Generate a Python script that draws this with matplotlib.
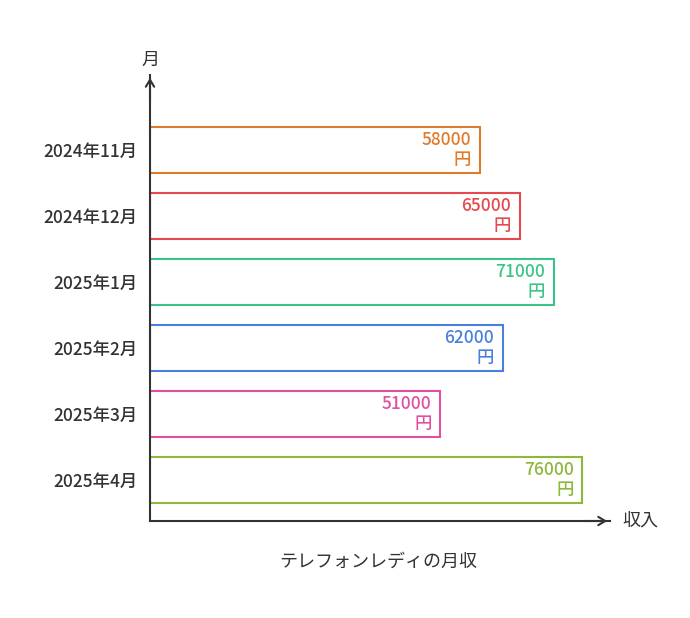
import matplotlib.pyplot as plt

plt.rcParams["font.family"] = ["Noto Sans CJK JP"]

months = ["2024年11月", "2024年12月", "2025年1月", "2025年2月", "2025年3月", "2025年4月"]
income = [58000, 65000, 71000, 62000, 51000, 76000]
colors = ["#e07b2a", "#e5484d", "#3cc488", "#4a7fe0", "#e04fa0", "#8db83a"]

fig = plt.figure(figsize=(6.9, 6.18), dpi=100)
ax = fig.add_axes([150 / 690, 97 / 618, 460 / 690, 446 / 618])

ypos = list(range(len(months)))
ax.barh(ypos, income, height=0.7, color="white", edgecolor=colors, linewidth=1.5)
for y, v, c in zip(ypos, income, colors):
    ax.text(v - 1500, y, f"{v}\n円", ha="right", va="center", color=c,
            fontsize=12.5, fontweight="medium", linespacing=1.15)

ax.set_xlim(0, 80900)
ax.set_ylim(5.62, -1.136)
ax.set_yticks(ypos)
ax.set_yticklabels(months, fontsize=12.5, color="#333333", fontweight="medium")
ax.tick_params(axis="y", length=0, pad=9)
ax.set_xticks([])
for s in ["top", "right"]:
    ax.spines[s].set_visible(False)
for s in ["left", "bottom"]:
    ax.spines[s].set_color("#333333")
    ax.spines[s].set_linewidth(1.5)

# open chevron arrow heads
ax.annotate("", xy=(0, -1.136), xytext=(0, -0.7), xycoords="data",
            arrowprops=dict(arrowstyle="->,head_length=0.5,head_width=0.3", color="#333333", lw=1.5),
            annotation_clip=False)
ax.annotate("", xy=(80900, 5.62), xytext=(76000, 5.62), xycoords="data",
            arrowprops=dict(arrowstyle="->,head_length=0.5,head_width=0.3", color="#333333", lw=1.5),
            annotation_clip=False)

fig.text(150 / 690, 1 - 60 / 618, "月", ha="center", va="center", fontsize=13, color="#333333")
fig.text(640 / 690, 1 - 521 / 618, "収入", ha="center", va="center", fontsize=13, color="#333333")
fig.text(378 / 690, 1 - 562 / 618, "テレフォンレディの月収", ha="center", va="center",
         fontsize=13, color="#333333")

fig.savefig("out.png", dpi=100)
